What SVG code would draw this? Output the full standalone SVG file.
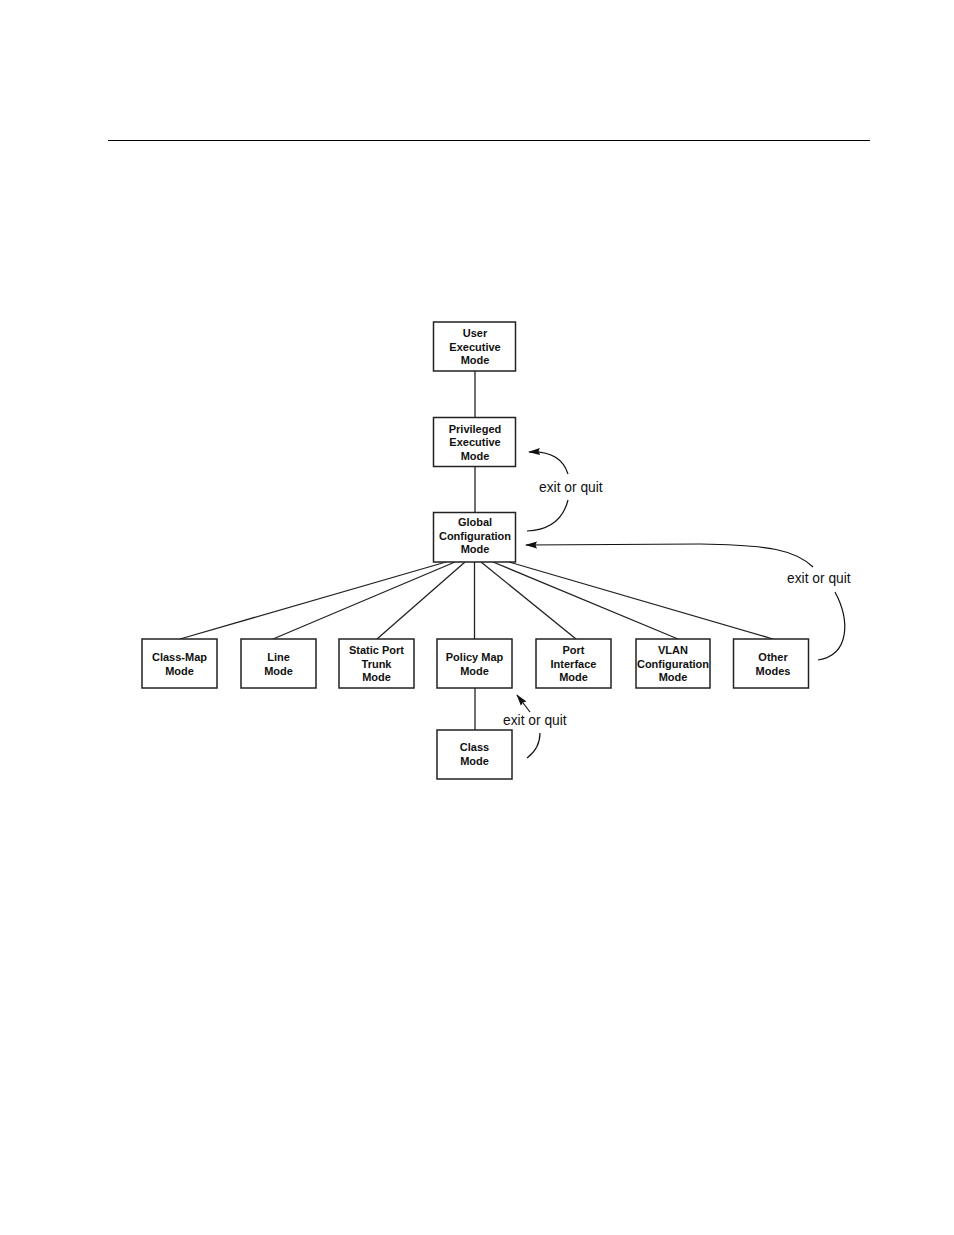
<svg xmlns="http://www.w3.org/2000/svg" width="954" height="1235" viewBox="0 0 954 1235">
<style>
.box{fill:#fff;stroke:#222;stroke-width:1.5}
.lbl{font-family:"Liberation Sans",Arial,sans-serif;font-weight:bold;font-size:11px;fill:#111;text-anchor:middle}
.note{font-family:"Liberation Sans",Arial,sans-serif;font-size:13.8px;fill:#111}
.con{stroke:#222;stroke-width:1.3;fill:none}
.arc{stroke:#111;stroke-width:1.2;fill:none}
</style>
<defs>
<marker id="ah" viewBox="0 0 12 8" refX="11" refY="4" markerWidth="12" markerHeight="8" markerUnits="userSpaceOnUse" orient="auto">
<path d="M0,0.5 L12,4 L0,7.5 L1.5,4 Z" fill="#111"/>
</marker>
</defs>
<rect width="954" height="1235" fill="#fff"/>
<line x1="108" y1="140.5" x2="870" y2="140.5" stroke="#000" stroke-width="1.2"/>
<g id="connectors">
<line class="con" x1="475" y1="371" x2="475" y2="417"/>
<line class="con" x1="475" y1="467" x2="475" y2="512"/>
<line class="con" x1="446" y1="562" x2="180" y2="639"/>
<line class="con" x1="455" y1="562" x2="273" y2="639"/>
<line class="con" x1="465" y1="562" x2="377" y2="639"/>
<line class="con" x1="474.5" y1="562" x2="474.5" y2="639"/>
<line class="con" x1="481" y1="562" x2="576" y2="639"/>
<line class="con" x1="493" y1="562" x2="678" y2="639"/>
<line class="con" x1="509" y1="562" x2="773" y2="639"/>
<line class="con" x1="475" y1="688" x2="475" y2="730"/>
<path class="arc" d="M568,474 C563,458 550,451 529,452" marker-end="url(#ah)"/>
<path class="arc" d="M568,500 C563,520 550,530 527,531"/>
<path class="arc" d="M813,567 C795,550 770,545 700,544 L526,545" marker-end="url(#ah)"/>
<path class="arc" d="M835,592 C850,620 850,655 818,660"/>
<path class="arc" d="M530,712 L517,695" marker-end="url(#ah)"/>
<path class="arc" d="M540,733 C540,745 535,752 527,758"/>
<text class="note" x="539" y="492">exit or quit</text>
<text class="note" x="787" y="583">exit or quit</text>
<text class="note" x="503" y="725">exit or quit</text>
</g>
<g id="user-exec">
<rect class="box" x="433.5" y="322" width="82" height="49"/>
<text class="lbl" x="475" y="337">User</text>
<text class="lbl" x="475" y="350.5">Executive</text>
<text class="lbl" x="475" y="364">Mode</text>
</g>
<g id="priv-exec">
<rect class="box" x="433.5" y="417.5" width="82" height="49"/>
<text class="lbl" x="475" y="432.5">Privileged</text>
<text class="lbl" x="475" y="446">Executive</text>
<text class="lbl" x="475" y="459.5">Mode</text>
</g>
<g id="global-config">
<rect class="box" x="433.5" y="512.5" width="82" height="49.5"/>
<text class="lbl" x="475" y="526">Global</text>
<text class="lbl" x="475" y="540">Configuration</text>
<text class="lbl" x="475" y="553">Mode</text>
</g>
<g id="class-map">
<rect class="box" x="142" y="639" width="75" height="49"/>
<text class="lbl" x="179.5" y="661">Class-Map</text>
<text class="lbl" x="179.5" y="674.5">Mode</text>
</g>
<g id="line-mode">
<rect class="box" x="241" y="639" width="75" height="49"/>
<text class="lbl" x="278.5" y="661">Line</text>
<text class="lbl" x="278.5" y="674.5">Mode</text>
</g>
<g id="static-port">
<rect class="box" x="339" y="639" width="75" height="49"/>
<text class="lbl" x="376.5" y="654">Static Port</text>
<text class="lbl" x="376.5" y="667.5">Trunk</text>
<text class="lbl" x="376.5" y="681">Mode</text>
</g>
<g id="policy-map">
<rect class="box" x="437" y="639" width="75" height="49"/>
<text class="lbl" x="474.5" y="661">Policy Map</text>
<text class="lbl" x="474.5" y="674.5">Mode</text>
</g>
<g id="port-interface">
<rect class="box" x="536" y="639" width="75" height="49"/>
<text class="lbl" x="573.5" y="654">Port</text>
<text class="lbl" x="573.5" y="667.5">Interface</text>
<text class="lbl" x="573.5" y="681">Mode</text>
</g>
<g id="vlan-config">
<rect class="box" x="636" y="639" width="74" height="49"/>
<text class="lbl" x="673" y="654">VLAN</text>
<text class="lbl" x="673" y="667.5">Configuration</text>
<text class="lbl" x="673" y="681">Mode</text>
</g>
<g id="other-modes">
<rect class="box" x="733.5" y="639" width="75" height="49"/>
<text class="lbl" x="773" y="661">Other</text>
<text class="lbl" x="773" y="674.5">Modes</text>
</g>
<g id="class-mode">
<rect class="box" x="437" y="730" width="75" height="49"/>
<text class="lbl" x="474.5" y="751">Class</text>
<text class="lbl" x="474.5" y="765">Mode</text>
</g>
</svg>
